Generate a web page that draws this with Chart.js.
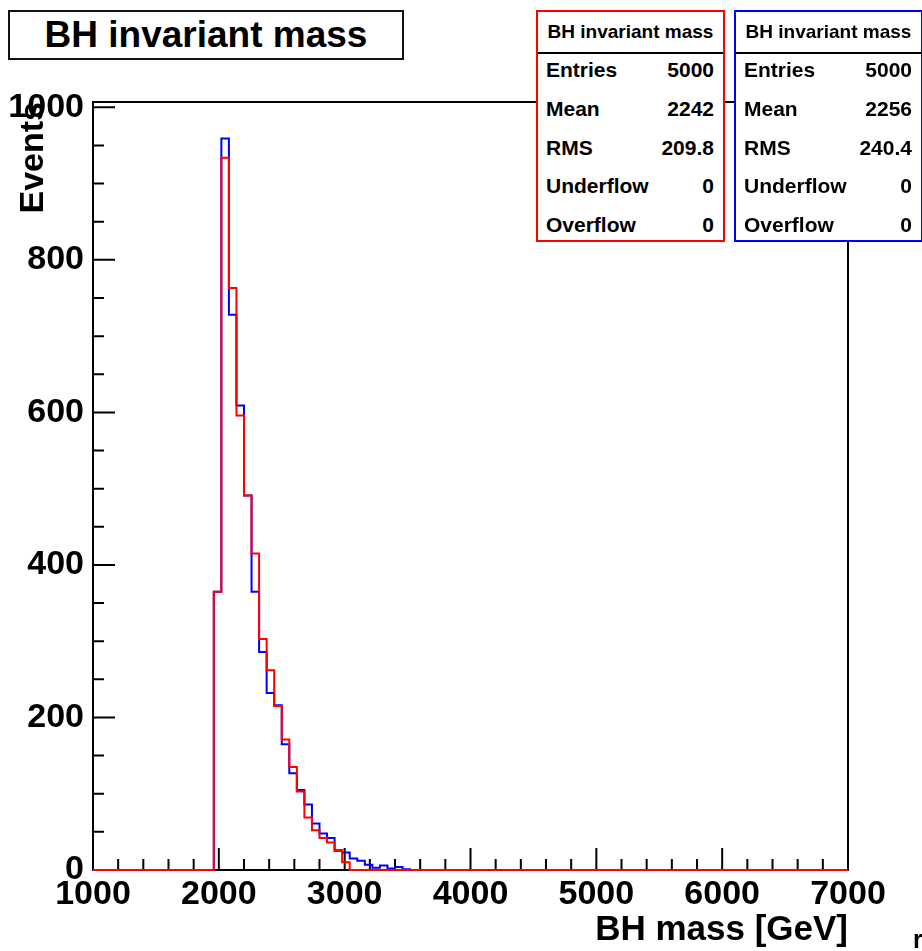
<!DOCTYPE html>
<html>
<head>
<meta charset="utf-8">
<script src="https://cdn.jsdelivr.net/npm/chart.js@4.4.1/dist/chart.umd.min.js"></script>
<style>
  body { margin: 0; background: #fff; overflow: hidden; }
  #wrap { position: relative; width: 922px; height: 951px; overflow: hidden; font-family: "Liberation Sans", Arial, sans-serif; font-weight: bold; }
  canvas { position: absolute; left: 0; top: 0; }
  .titlebox { position: absolute; left: 8px; top: 10px; width: 396px; height: 50px; box-sizing: border-box;
    border: 2px solid #111; background: #fff; font-size: 37px; line-height: 46px; text-align: center; }
  .stats { position: absolute; top: 10px; width: 189px; height: 232px; box-sizing: border-box; background: #fff; border: 2px solid; }
  .stats .head { position: absolute; left: 0; right: 0; top: 0; height: 40px; border-bottom: 2px solid; font-size: 19px; line-height: 40px; text-align: center; color: #000; }
  .stats .row { position: absolute; left: 8px; right: 9px; height: 30px; line-height: 30px; font-size: 21px; color: #000; }
  .stats .row span { position: absolute; right: 0; }
  .corner { position: absolute; left: 913px; top: 925px; font-size: 25px; font-weight: bold; }
</style>
</head>
<body>
<div id="wrap">
  <canvas id="chartCanvas" width="922" height="951"></canvas>
  <div class="titlebox">BH invariant mass</div>
  <div class="stats" id="statsRed" style="left:536px; border-color:#ff0000;"></div>
  <div class="stats" id="statsBlue" style="left:734px; border-color:#0000ff;"></div>
  <div class="corner">r</div>
</div>
<script>
// histogram binning
const xMin = 1000;
const xMax = 7000;
const nBins = 100;
const firstFilledBin = 16; // bin starting at 1960 GeV

// bin contents, starting at firstFilledBin (rest are empty)
const redCounts = [365, 934, 763, 596, 491, 415, 303, 262, 215, 171, 135, 103, 69, 52, 42, 36, 25, 10];
const blueCounts = [365, 959, 728, 609, 491, 365, 286, 232, 216, 165, 127, 105, 86, 61, 48, 42, 26, 23, 15, 12, 7, 3, 6, 2, 4, 1];

const yMax = 1007;

// axis labels
const xTickValues = [1000, 2000, 3000, 4000, 5000, 6000, 7000];
const yTickValues = [0, 200, 400, 600, 800, 1000];

// stat box contents
const statLabels = ['Entries', 'Mean', 'RMS', 'Underflow', 'Overflow'];
const redStats = ['5000', '2242', '209.8', '0', '0'];
const blueStats = ['5000', '2256', '240.4', '0', '0'];
const statRowY = [68, 107, 146, 184, 223];

function fillStats(id, values) {
  const box = document.getElementById(id);
  let html = '<div class="head">BH invariant mass</div>';
  statLabels.forEach((lab, i) => {
    html += `<div class="row" style="top:${statRowY[i] - 10 - 15}px">${lab}<span>${values[i]}</span></div>`;
  });
  box.innerHTML = html;
}
fillStats('statsRed', redStats);
fillStats('statsBlue', blueStats);

// turn bin contents into outline points (left and right edge of every bin)
function histPoints(counts) {
  const w = (xMax - xMin) / nBins;
  const pts = [{ x: xMin, y: 0 }];
  for (let i = 0; i < nBins; i++) {
    const k = i - firstFilledBin;
    const v = (k >= 0 && k < counts.length) ? counts[k] : 0;
    pts.push({ x: xMin + i * w, y: v });
    pts.push({ x: xMin + (i + 1) * w, y: v });
  }
  return pts;
}

// ROOT style frame with ticks on the inside
const frameTicks = {
  id: 'frameTicks',
  beforeDatasetsDraw(chart) {
    const { ctx, chartArea: a, scales } = chart;
    const xs = scales.x, ys = scales.y;
    ctx.save();
    ctx.strokeStyle = '#000';
    ctx.lineWidth = 2;
    ctx.strokeRect(a.left, a.top, a.right - a.left, a.bottom - a.top);
    ctx.beginPath();
    for (let v = xMin; v <= xMax; v += 200) {
      const px = xs.getPixelForValue(v);
      const len = (v % 1000 === 0) ? 22 : 11;
      ctx.moveTo(px, a.bottom);
      ctx.lineTo(px, a.bottom - len);
    }
    for (let v = 0; v <= yMax; v += 50) {
      const py = ys.getPixelForValue(v);
      const len = (v % 200 === 0) ? 22 : 11;
      ctx.moveTo(a.left, py);
      ctx.lineTo(a.left + len, py);
    }
    ctx.stroke();
    ctx.restore();
  }
};

const tickFont = { family: '"Liberation Sans", Arial, sans-serif', weight: 'bold', size: 34 };
const xTitleFont = { family: '"Liberation Sans", Arial, sans-serif', weight: 'bold', size: 35 };

const chart = new Chart(document.getElementById('chartCanvas').getContext('2d'), {
  type: 'line',
  data: {
    datasets: [
      {
        label: 'red',
        data: histPoints(redCounts),
        borderColor: '#ff0000',
        borderWidth: 2,
        pointRadius: 0,
        fill: false,
        clip: false
      },
      {
        label: 'blue',
        data: histPoints(blueCounts),
        borderColor: '#0000ff',
        borderWidth: 2,
        pointRadius: 0,
        fill: false,
        clip: false
      }
    ]
  },
  options: {
    responsive: false,
    animation: false,
    layout: { padding: { top: 102, right: 74, left: 0, bottom: 0 } },
    plugins: { legend: { display: false }, tooltip: { enabled: false } },
    scales: {
      x: {
        type: 'linear',
        min: xMin,
        max: xMax,
        grid: { display: false, drawTicks: false },
        border: { display: false },
        ticks: { color: '#000', font: tickFont, padding: 4, maxRotation: 0, autoSkip: false, callback: v => String(v) },
        afterBuildTicks(scale) { scale.ticks = xTickValues.map(v => ({ value: v })); },
        title: { display: true, text: 'BH mass [GeV]', align: 'end', color: '#000', font: xTitleFont, padding: 0 },
        afterFit(scale) { scale.height = 81; }
      },
      y: {
        min: 0,
        max: yMax,
        grid: { display: false, drawTicks: false },
        border: { display: false },
        ticks: { color: '#000', font: tickFont, padding: 9, autoSkip: false, callback: v => String(v) },
        afterBuildTicks(scale) { scale.ticks = yTickValues.map(v => ({ value: v })); },
        title: { display: true, text: 'Events', align: 'end', color: '#000', font: tickFont, padding: { top: 13, bottom: 0 } },
        afterFit(scale) { scale.width = 93; }
      }
    }
  },
  plugins: [frameTicks]
});
</script>
</body>
</html>
